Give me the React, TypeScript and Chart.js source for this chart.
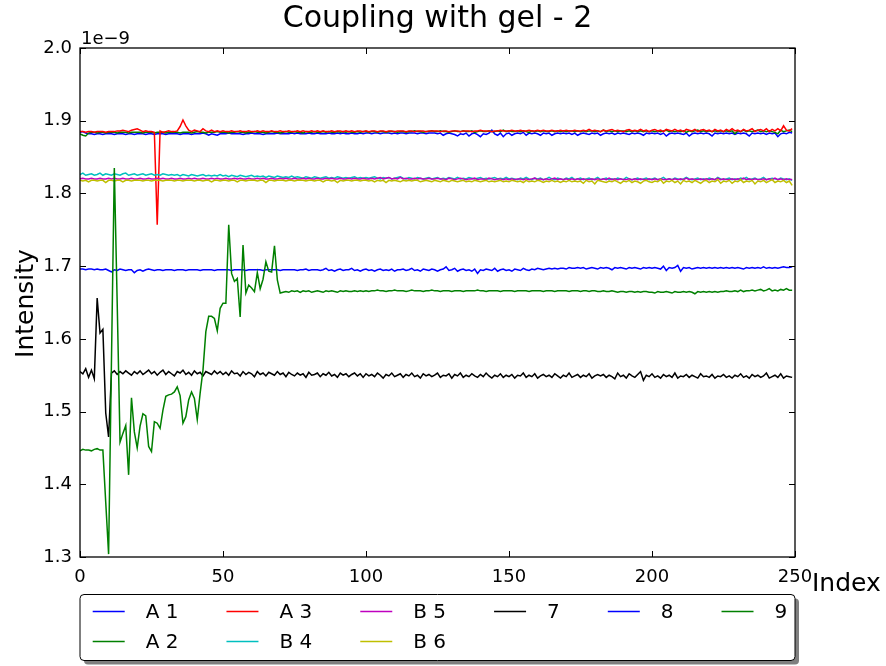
import { useEffect, useRef } from "react";
import { Chart, registerables } from "chart.js";

Chart.register(...registerables);

// Intensities are stored in units of 1e-12; the y axis shows them in units of 1e-9.
const seriesA1 = [
  1884,1885,1883,1882,1882,1881,1882,1882,1881,1882,1882,1882,1881,1882,1882,1882,1881,1882,1882,1881,1882,1882,1882,1881,1882,
  1882,1881,1882,1882,1882,1881,1882,1882,1882,1882,1881,1882,1882,1882,1881,1882,1882,1882,1883,1882,1880,1882,1881,1880,1882,
  1882,1882,1883,1882,1882,1882,1882,1881,1882,1882,1883,1882,1882,1882,1881,1882,1882,1882,1882,1883,1882,1882,1882,1882,1883,
  1882,1883,1882,1882,1882,1883,1882,1882,1883,1882,1882,1882,1883,1882,1882,1883,1882,1883,1882,1882,1883,1882,1882,1883,1882,
  1883,1883,1882,1883,1883,1882,1883,1883,1883,1882,1883,1882,1883,1883,1882,1883,1883,1883,1882,1883,1883,1882,1883,1883,1883,
  1882,1883,1880,1882,1883,1882,1881,1879,1882,1881,1883,1879,1882,1883,1881,1878,1882,1881,1883,1887,1882,1880,1883,1878,1882,
  1883,1880,1882,1883,1882,1884,1880,1883,1882,1883,1882,1880,1883,1882,1883,1880,1882,1883,1882,1883,1882,1883,1881,1883,1880,
  1882,1883,1882,1881,1883,1882,1883,1880,1882,1883,1882,1883,1881,1883,1882,1883,1882,1881,1883,1882,1883,1882,1880,1883,1882,
  1883,1882,1883,1881,1883,1879,1882,1883,1882,1883,1882,1881,1883,1879,1882,1883,1882,1883,1882,1883,1882,1879,1883,1882,1883,
  1882,1883,1882,1883,1881,1883,1882,1883,1882,1879,1883,1882,1883,1882,1883,1881,1883,1882,1883,1878,1882,1883,1882,1884,1883,
];

const seriesA2 = [
  1882,1880,1879,1883,1884,1884,1883,1884,1884,1883,1884,1884,1884,1883,1884,1884,1884,1883,1884,1884,1884,1884,1883,1884,1884,
  1884,1883,1884,1884,1884,1883,1884,1884,1884,1884,1883,1884,1884,1884,1883,1884,1885,1884,1884,1883,1884,1884,1884,1885,1884,
  1884,1884,1883,1884,1884,1885,1884,1884,1883,1884,1884,1885,1884,1884,1884,1883,1884,1885,1884,1884,1883,1884,1885,1884,1884,
  1885,1884,1884,1883,1885,1884,1884,1885,1884,1884,1885,1884,1885,1884,1884,1885,1884,1885,1884,1885,1884,1884,1885,1884,1885,
  1885,1884,1885,1885,1884,1885,1885,1884,1885,1885,1885,1884,1885,1885,1884,1885,1885,1886,1885,1885,1884,1885,1885,1886,1885,
  1885,1886,1885,1885,1884,1885,1886,1885,1885,1886,1885,1885,1886,1884,1885,1886,1885,1885,1886,1885,1885,1886,1885,1887,1885,
  1886,1885,1885,1886,1885,1886,1885,1884,1886,1885,1886,1885,1886,1885,1885,1886,1885,1886,1885,1886,1885,1886,1886,1885,1886,
  1885,1886,1885,1886,1886,1885,1886,1885,1887,1885,1886,1885,1886,1885,1886,1886,1885,1886,1885,1886,1885,1886,1885,1886,1885,
  1886,1885,1886,1885,1886,1887,1885,1886,1885,1886,1885,1886,1884,1886,1885,1886,1887,1885,1886,1885,1886,1885,1886,1885,1886,
  1885,1886,1885,1886,1882,1886,1885,1887,1885,1886,1885,1886,1887,1885,1886,1885,1886,1885,1884,1882,1887,1885,1886,1887,1885,
];

const seriesA3 = [
  1885,1885,1884,1885,1885,1884,1885,1885,1885,1884,1885,1885,1885,1886,1886,1887,1886,1885,1887,1888,1889,1887,1885,1886,1885,
  1885,1884,1757,1886,1884,1885,1886,1885,1885,1886,1892,1901,1893,1887,1885,1887,1886,1885,1889,1886,1885,1887,1885,1886,1885,
  1886,1885,1885,1886,1885,1885,1886,1885,1885,1886,1885,1885,1886,1885,1886,1885,1885,1886,1885,1885,1886,1885,1885,1886,1885,
  1885,1886,1885,1886,1885,1885,1886,1885,1886,1885,1886,1885,1885,1886,1885,1886,1886,1885,1886,1885,1886,1885,1886,1886,1885,
  1886,1885,1886,1886,1885,1886,1886,1885,1886,1886,1885,1886,1886,1886,1885,1886,1886,1885,1886,1886,1886,1885,1886,1886,1886,
  1886,1885,1886,1886,1885,1886,1886,1886,1885,1886,1886,1886,1885,1886,1886,1887,1886,1886,1886,1885,1886,1886,1887,1886,1886,
  1886,1887,1886,1886,1887,1886,1886,1887,1886,1886,1887,1886,1887,1886,1886,1887,1886,1886,1887,1886,1887,1886,1886,1887,1886,
  1886,1887,1886,1888,1886,1887,1886,1885,1887,1886,1887,1888,1886,1887,1886,1885,1887,1888,1886,1887,1886,1888,1886,1887,1885,
  1887,1888,1886,1887,1885,1888,1887,1886,1888,1886,1887,1885,1888,1887,1886,1888,1885,1887,1888,1886,1887,1885,1888,1886,1887,
  1885,1888,1886,1889,1886,1887,1885,1888,1886,1887,1889,1885,1887,1888,1886,1889,1885,1888,1886,1889,1886,1893,1887,1886,1889,
];

const seriesB4 = [
  1826,1828,1825,1826,1827,1825,1826,1828,1825,1827,1826,1825,1827,1826,1825,1827,1828,1825,1826,1827,1825,1826,1827,1825,1826,
  1827,1825,1826,1825,1827,1826,1825,1826,1825,1826,1824,1826,1825,1824,1826,1825,1824,1825,1826,1824,1825,1824,1825,1824,1826,
  1824,1825,1823,1825,1824,1823,1825,1824,1823,1824,1825,1823,1824,1823,1824,1822,1824,1823,1822,1824,1823,1822,1823,1822,1824,
  1822,1823,1822,1821,1823,1822,1821,1823,1822,1821,1822,1823,1821,1822,1821,1823,1822,1821,1822,1821,1822,1823,1821,1822,1821,
  1822,1821,1822,1823,1821,1820,1822,1821,1822,1820,1821,1822,1823,1821,1820,1822,1821,1820,1822,1821,1820,1821,1822,1820,1821,
  1822,1820,1821,1820,1822,1821,1820,1822,1820,1821,1820,1822,1821,1820,1821,1822,1820,1821,1820,1821,1822,1820,1821,1820,1822,
  1820,1821,1820,1819,1821,1820,1822,1820,1819,1821,1820,1821,1819,1820,1822,1820,1819,1821,1820,1819,1821,1820,1822,1819,1820,
  1821,1819,1820,1821,1819,1820,1822,1819,1820,1821,1819,1820,1819,1821,1820,1819,1822,1820,1819,1820,1821,1819,1820,1821,1819,
  1820,1821,1819,1820,1822,1819,1820,1819,1821,1820,1819,1820,1822,1820,1819,1820,1821,1819,1820,1819,1821,1820,1819,1822,1820,
  1819,1820,1821,1819,1820,1819,1821,1820,1822,1819,1820,1821,1819,1820,1822,1819,1820,1821,1820,1819,1821,1820,1819,1820,1818,
];

const seriesB5 = [
  1820,1821,1820,1820,1821,1820,1820,1821,1820,1820,1821,1820,1821,1820,1820,1821,1820,1820,1821,1820,1820,1821,1820,1820,1821,
  1820,1820,1821,1820,1821,1820,1820,1821,1820,1820,1821,1820,1820,1821,1820,1821,1820,1820,1821,1820,1820,1821,1820,1821,1820,
  1820,1821,1820,1820,1821,1820,1821,1820,1820,1821,1820,1820,1821,1820,1821,1820,1820,1821,1820,1820,1821,1820,1821,1820,1820,
  1821,1820,1820,1821,1820,1821,1820,1820,1821,1820,1820,1821,1820,1821,1820,1820,1821,1820,1820,1821,1820,1821,1820,1820,1821,
  1820,1820,1821,1820,1821,1822,1820,1821,1822,1820,1821,1820,1822,1820,1821,1820,1820,1821,1820,1821,1820,1820,1821,1820,1820,
  1821,1820,1820,1819,1821,1820,1819,1820,1821,1820,1819,1820,1820,1821,1819,1820,1820,1819,1821,1820,1819,1820,1820,1819,1820,
  1819,1820,1819,1820,1820,1819,1820,1819,1820,1821,1819,1820,1819,1820,1819,1820,1821,1819,1820,1819,1820,1819,1820,1819,1820,
  1819,1820,1819,1819,1820,1819,1820,1819,1820,1819,1821,1819,1820,1819,1820,1819,1819,1820,1819,1820,1819,1820,1819,1819,1820,
  1819,1820,1819,1820,1819,1819,1820,1819,1820,1819,1820,1819,1821,1819,1820,1819,1819,1820,1819,1820,1819,1820,1819,1821,1819,
  1820,1819,1819,1820,1819,1820,1819,1821,1819,1820,1819,1820,1819,1819,1820,1819,1820,1819,1821,1819,1820,1819,1820,1819,1819,
];

const seriesB6 = [
  1818,1817,1818,1816,1818,1818,1817,1818,1818,1815,1818,1818,1817,1818,1818,1816,1818,1818,1817,1818,1818,1818,1817,1818,1818,
  1817,1818,1818,1818,1817,1818,1818,1818,1817,1818,1818,1817,1818,1818,1818,1817,1818,1818,1817,1818,1818,1816,1818,1818,1817,
  1818,1818,1817,1818,1818,1816,1818,1818,1817,1818,1818,1818,1817,1818,1818,1815,1818,1818,1817,1818,1818,1818,1817,1818,1818,
  1817,1818,1818,1818,1817,1818,1818,1817,1818,1818,1816,1818,1818,1817,1818,1815,1818,1817,1818,1818,1817,1818,1818,1817,1818,
  1818,1817,1818,1816,1818,1817,1818,1815,1818,1817,1818,1817,1816,1818,1817,1818,1817,1818,1818,1816,1817,1818,1817,1816,1818,
  1817,1816,1818,1817,1816,1818,1817,1816,1817,1818,1816,1817,1816,1818,1817,1816,1817,1818,1816,1817,1816,1817,1818,1816,1817,
  1816,1818,1817,1816,1817,1815,1818,1816,1817,1816,1818,1817,1815,1817,1816,1818,1816,1817,1815,1817,1816,1818,1816,1817,1816,
  1817,1814,1818,1816,1817,1813,1818,1817,1816,1815,1817,1816,1818,1816,1814,1817,1816,1818,1815,1817,1816,1814,1817,1818,1816,
  1815,1817,1816,1819,1814,1817,1816,1818,1815,1817,1813,1818,1816,1817,1815,1818,1816,1814,1817,1818,1815,1817,1816,1819,1814,
  1817,1816,1818,1814,1817,1816,1819,1815,1817,1816,1818,1813,1817,1816,1818,1815,1817,1819,1815,1817,1816,1818,1815,1817,1811,
];

const series7 = [
  1555,1552,1559,1547,1557,1545,1656,1608,1613,1498,1465,1553,1556,1551,1555,1552,1556,1553,1550,1555,1552,1556,1551,1554,1557,
  1552,1555,1550,1554,1557,1551,1555,1552,1549,1555,1553,1557,1551,1554,1550,1556,1552,1554,1549,1555,1553,1551,1556,1552,1555,
  1551,1554,1550,1556,1552,1553,1549,1555,1551,1554,1552,1548,1555,1551,1553,1549,1554,1552,1550,1555,1551,1553,1548,1554,1551,
  1549,1553,1550,1552,1547,1554,1550,1551,1553,1548,1552,1550,1554,1549,1551,1547,1553,1550,1552,1548,1551,1553,1549,1552,1547,
  1552,1549,1551,1548,1553,1550,1546,1551,1549,1553,1548,1550,1552,1547,1551,1549,1553,1548,1550,1546,1552,1549,1551,1548,1550,
  1553,1547,1550,1549,1552,1546,1551,1549,1553,1547,1550,1548,1552,1549,1547,1551,1548,1553,1549,1546,1550,1548,1552,1547,1550,
  1548,1551,1546,1550,1549,1553,1547,1550,1548,1552,1546,1549,1551,1548,1550,1547,1552,1549,1546,1550,1548,1553,1547,1549,1551,
  1547,1550,1548,1552,1546,1549,1551,1549,1551,1547,1550,1548,1545,1553,1548,1550,1546,1552,1549,1547,1551,1555,1543,1550,1548,
  1552,1547,1549,1546,1551,1548,1550,1547,1553,1546,1549,1548,1551,1547,1550,1548,1546,1552,1548,1549,1547,1551,1546,1549,1548,
  1551,1547,1549,1546,1550,1548,1552,1547,1549,1546,1551,1548,1550,1547,1549,1553,1546,1548,1550,1547,1552,1546,1549,1548,1547,
];

const series8 = [
  1696,1696,1695,1696,1696,1695,1696,1695,1695,1696,1694,1692,1695,1694,1696,1695,1694,1695,1695,1691,1694,1695,1693,1695,1696,
  1695,1694,1695,1695,1694,1695,1695,1695,1694,1695,1695,1695,1694,1695,1695,1695,1695,1694,1695,1695,1695,1695,1694,1695,1695,
  1695,1695,1695,1694,1695,1695,1695,1695,1694,1695,1695,1695,1695,1695,1694,1695,1695,1695,1695,1695,1694,1695,1695,1695,1695,
  1695,1694,1695,1695,1696,1694,1695,1695,1695,1694,1695,1697,1694,1695,1693,1695,1696,1694,1695,1695,1697,1694,1695,1693,1695,
  1696,1694,1695,1693,1695,1696,1694,1695,1694,1696,1693,1695,1695,1696,1694,1695,1697,1694,1695,1693,1696,1695,1694,1696,1695,
  1693,1695,1696,1699,1694,1695,1697,1693,1695,1696,1694,1695,1693,1696,1690,1695,1694,1696,1695,1694,1697,1693,1695,1696,1694,
  1695,1693,1696,1695,1694,1697,1695,1694,1696,1695,1697,1696,1695,1696,1697,1696,1697,1696,1697,1697,1696,1698,1697,1697,1698,
  1697,1698,1696,1697,1698,1697,1696,1698,1697,1698,1697,1695,1698,1697,1698,1697,1696,1698,1697,1698,1697,1696,1698,1697,1698,
  1697,1698,1697,1696,1700,1694,1698,1697,1698,1701,1693,1698,1697,1698,1696,1697,1698,1697,1698,1697,1698,1697,1698,1697,1698,
  1697,1698,1697,1698,1697,1698,1697,1696,1698,1697,1698,1697,1698,1697,1699,1697,1698,1697,1698,1697,1698,1699,1698,1698,1699,
];

const series9 = [
  1446,1448,1447,1447,1446,1448,1449,1447,1447,1375,1304,1570,1835,1650,1458,1470,1481,1413,1519,1472,1450,1480,1497,1494,1452,
  1445,1486,1484,1477,1502,1521,1523,1524,1527,1534,1522,1484,1493,1516,1527,1518,1489,1525,1557,1610,1631,1631,1628,1611,1642,
  1649,1649,1757,1690,1679,1683,1630,1729,1663,1674,1670,1665,1691,1669,1682,1706,1693,1692,1728,1681,1663,1664,1665,1664,1666,
  1665,1666,1664,1666,1665,1666,1664,1665,1666,1665,1664,1666,1665,1666,1665,1664,1666,1665,1666,1665,1665,1666,1665,1666,1665,
  1666,1665,1666,1666,1667,1666,1666,1665,1666,1666,1667,1666,1666,1666,1665,1666,1667,1666,1666,1666,1665,1666,1666,1667,1666,
  1666,1665,1666,1666,1666,1665,1666,1666,1666,1665,1666,1666,1666,1666,1667,1666,1666,1665,1666,1666,1666,1666,1665,1666,1666,
  1666,1666,1665,1666,1666,1666,1666,1665,1666,1666,1666,1666,1665,1666,1666,1666,1665,1666,1666,1666,1666,1665,1666,1666,1666,
  1665,1666,1666,1665,1666,1666,1665,1665,1666,1665,1665,1666,1665,1664,1665,1665,1664,1665,1665,1664,1665,1664,1665,1665,1664,
  1664,1663,1665,1664,1664,1665,1664,1663,1665,1664,1664,1665,1664,1665,1664,1662,1665,1664,1665,1664,1665,1664,1665,1664,1665,
  1665,1666,1665,1665,1666,1665,1667,1665,1666,1666,1667,1666,1667,1668,1666,1667,1669,1666,1667,1666,1668,1667,1669,1667,1667,
];

const seriesNames = ["A 1", "A 2", "A 3", "B 4", "B 5", "B 6", "7", "8", "9"];
const seriesColors = ["#0000ff", "#008000", "#ff0000", "#00bfbf", "#bf00bf", "#bfbf00", "#000000", "#0000ff", "#008000"];
const xTickValues = [0, 50, 100, 150, 200, 250];
const yTickValues = [1.3, 1.4, 1.5, 1.6, 1.7, 1.8, 1.9, 2.0];
const legendColumns = [2, 2, 2, 1, 1, 1];

const FONT = '"DejaVu Sans", "Liberation Sans", sans-serif';

function roundedRect(ctx: CanvasRenderingContext2D, x: number, y: number, w: number, h: number, r: number) {
  ctx.beginPath();
  ctx.moveTo(x + r, y);
  ctx.lineTo(x + w - r, y);
  ctx.arcTo(x + w, y, x + w, y + r, r);
  ctx.lineTo(x + w, y + h - r);
  ctx.arcTo(x + w, y + h, x + w - r, y + h, r);
  ctx.lineTo(x + r, y + h);
  ctx.arcTo(x, y + h, x, y + h - r, r);
  ctx.lineTo(x, y + r);
  ctx.arcTo(x, y, x + r, y, r);
  ctx.closePath();
}

// Frame, inward tick marks, title, axis labels and the boxed legend below the plot.
const decorations = {
  id: "decorations",
  afterDatasetsDraw(chart: any) {
    const { ctx, chartArea, scales } = chart;
    const { left, right, top, bottom } = chartArea;
    ctx.save();
    ctx.strokeStyle = "#000";
    ctx.lineWidth = 1;
    const tl = 6;
    ctx.beginPath();
    for (const v of xTickValues) {
      const px = Math.round(scales.x.getPixelForValue(v)) + 0.5;
      ctx.moveTo(px, bottom);
      ctx.lineTo(px, bottom - tl);
      ctx.moveTo(px, top);
      ctx.lineTo(px, top + tl);
    }
    for (const v of yTickValues) {
      const py = Math.round(scales.y.getPixelForValue(v)) + 0.5;
      ctx.moveTo(left, py);
      ctx.lineTo(left + tl, py);
      ctx.moveTo(right, py);
      ctx.lineTo(right - tl, py);
    }
    ctx.stroke();
    ctx.lineWidth = 1.3;
    ctx.strokeRect(left, top, right - left, bottom - top);
    ctx.restore();
  },
  afterDraw(chart: any) {
    const { ctx, chartArea } = chart;
    const { left, right, top, bottom } = chartArea;
    ctx.save();
    ctx.fillStyle = "#000";

    ctx.font = `30px ${FONT}`;
    ctx.textAlign = "center";
    ctx.textBaseline = "alphabetic";
    ctx.fillText("Coupling with gel - 2", (left + right) / 2, 27);

    ctx.font = `18px ${FONT}`;
    ctx.textAlign = "left";
    ctx.fillText("1e\u22129", left + 1, top - 4);

    ctx.font = `25px ${FONT}`;
    ctx.textAlign = "left";
    ctx.fillText("Index", right + 17, bottom + 34);

    ctx.save();
    ctx.translate(33, (top + bottom) / 2 + 1);
    ctx.rotate(-Math.PI / 2);
    ctx.textAlign = "center";
    ctx.fillText("Intensity", 0, 0);
    ctx.restore();

    // legend box with drop shadow
    const bx = left, by = 594.5, bw = right - left, bh = 66;
    ctx.fillStyle = "rgba(0,0,0,0.5)";
    roundedRect(ctx, bx + 4, by + 4, bw, bh, 4);
    ctx.fill();
    ctx.fillStyle = "#fff";
    roundedRect(ctx, bx, by, bw, bh, 4);
    ctx.fill();
    ctx.strokeStyle = "#000";
    ctx.lineWidth = 1;
    ctx.stroke();

    ctx.font = `20px ${FONT}`;
    ctx.textAlign = "left";
    ctx.textBaseline = "middle";
    let colX = bx + 12.7;
    let k = 0;
    for (const count of legendColumns) {
      let maxW = 0;
      for (let r = 0; r < count; r++, k++) {
        const ry = 611.5 + r * 30;
        ctx.strokeStyle = seriesColors[k];
        ctx.lineWidth = 1.5;
        ctx.beginPath();
        ctx.moveTo(colX, ry);
        ctx.lineTo(colX + 32, ry);
        ctx.stroke();
        ctx.fillStyle = "#000";
        ctx.fillText(seriesNames[k], colX + 53, ry + 1);
        maxW = Math.max(maxW, ctx.measureText(seriesNames[k]).width);
      }
      colX += 53 + maxW + 48;
    }
    ctx.restore();
  },
};

export default function App() {
  const canvasRef = useRef<HTMLCanvasElement>(null);

  useEffect(() => {
    const all = [seriesA1, seriesA2, seriesA3, seriesB4, seriesB5, seriesB6, series7, series8, series9];
    const chart = new Chart(canvasRef.current!, {
      type: "line",
      data: {
        datasets: all.map((vals, k) => ({
          label: seriesNames[k],
          data: vals.map((v, i) => ({ x: i, y: v / 1000 })),
          borderColor: seriesColors[k],
          backgroundColor: seriesColors[k],
          borderWidth: 1.5,
          pointRadius: 0,
          tension: 0,
          fill: false,
          order: all.length - k,
        })),
      },
      options: {
        responsive: false,
        animation: false,
        devicePixelRatio: 1,
        events: [],
        layout: { padding: { left: 0, top: 48, right: 91, bottom: 0 } },
        plugins: {
          legend: { display: false },
          title: { display: false },
          tooltip: { enabled: false },
        },
        scales: {
          x: {
            type: "linear",
            min: 0,
            max: 250,
            afterBuildTicks: (s: any) => {
              s.ticks = xTickValues.map((v) => ({ value: v }));
            },
            afterFit: (s: any) => {
              s.height = 109;
            },
            grid: { display: false, drawTicks: false },
            border: { display: false },
            ticks: {
              color: "#000",
              padding: 10,
              maxRotation: 0,
              autoSkip: false,
              font: { family: FONT, size: 18 },
              callback: (v: any) => String(v),
            },
          },
          y: {
            type: "linear",
            min: 1.3,
            max: 2.0,
            afterBuildTicks: (s: any) => {
              s.ticks = yTickValues.map((v) => ({ value: v }));
            },
            afterFit: (s: any) => {
              s.width = 80;
            },
            grid: { display: false, drawTicks: false },
            border: { display: false },
            ticks: {
              color: "#000",
              padding: 8,
              autoSkip: false,
              font: { family: FONT, size: 18 },
              callback: (v: any) => Number(v).toFixed(1),
            },
          },
        },
      },
      plugins: [decorations],
    });
    return () => chart.destroy();
  }, []);

  return (
    <div style={{ position: "absolute", left: 0, top: 0, width: 886, height: 666, background: "#fff" }}>
      <canvas ref={canvasRef} width={886} height={666} style={{ display: "block" }} />
    </div>
  );
}
